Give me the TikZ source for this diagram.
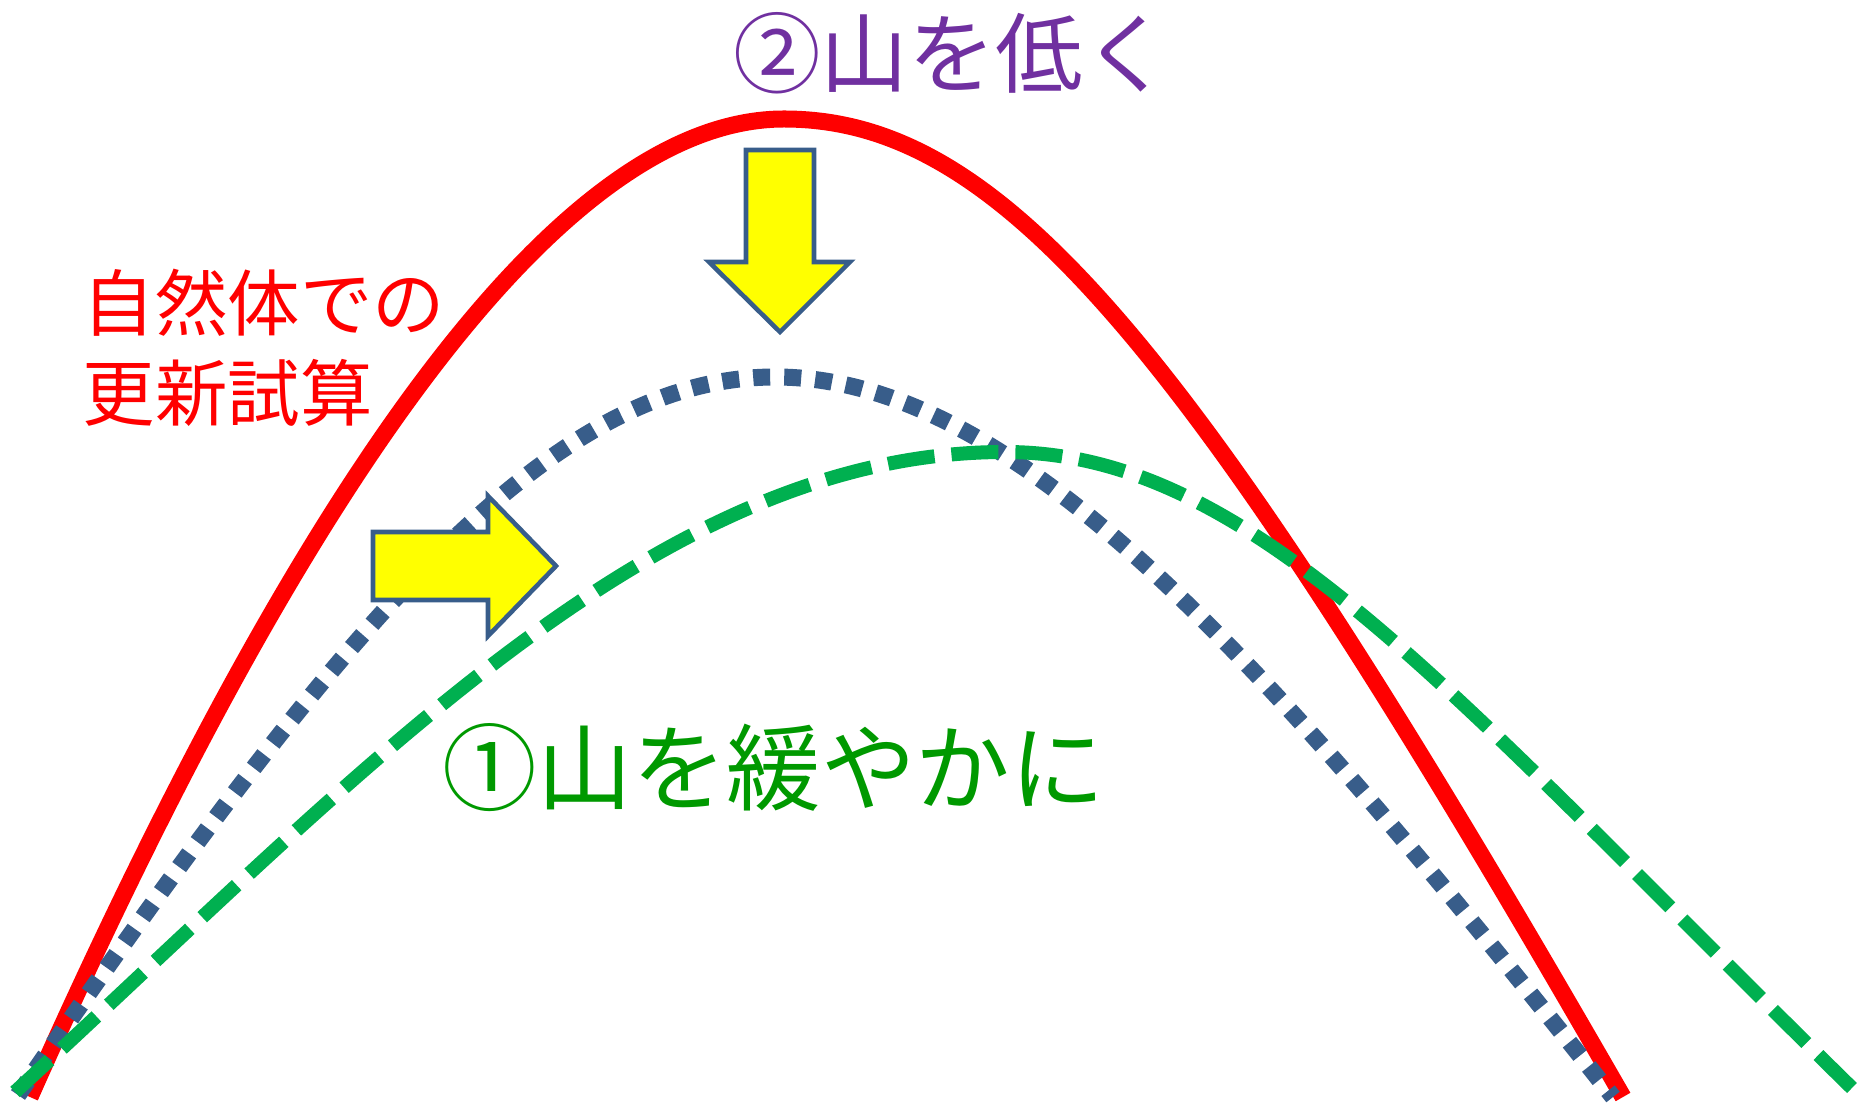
\documentclass[tikz,border=0pt]{standalone}
\usepackage{fontspec}
\usepackage{xcolor}
\usepackage{tikz}
\usetikzlibrary{arrows.meta,positioning}
\newfontfamily\jpfont{Noto Sans CJK JP}
\definecolor{peakred}{HTML}{FF0000}
\definecolor{dotblue}{HTML}{385D8A}
\definecolor{dashgreen}{HTML}{00B050}
\definecolor{labelgreen}{HTML}{009900}
\definecolor{labelpurple}{HTML}{7030A0}
\definecolor{arrowyellow}{HTML}{FFFF00}

\begin{document}
\begin{tikzpicture}[x=0.01cm,y=-0.01cm]
\tikzstyle{redcurve}=[draw=peakred, line width=0.17cm]
\tikzstyle{bluecurve}=[draw=dotblue, line width=0.17cm, dash pattern=on 0.17cm off 0.14cm]
\tikzstyle{greencurve}=[draw=dashgreen, line width=0.14cm, dash pattern=on 0.47cm off 0.17cm]
\tikzstyle{fatarrow}=[draw=dotblue, fill=arrowyellow, line width=1.3pt, line join=miter]
\tikzstyle{jplabel}=[inner sep=0pt, font=\jpfont]
\useasboundingbox (0,0) rectangle (1858,1107);
% natural body (red)
\coordinate (redtop) at (784,119);
\draw[redcurve] (30,1097) .. controls (310,467) and (564,119) .. (redtop)
  .. controls (1004,119) and (1193,349) .. (1623,1097);
% lowered peak (dotted)
\coordinate (bluetop) at (775,377);
\draw[bluecurve] (18,1095) .. controls (338,631) and (545,377) .. (bluetop)
  .. controls (1015,377) and (1263,656) .. (1613,1097);
% gentler slope (dashed)
\coordinate (greentop) at (1005,452);
\draw[greencurve] (15,1092) .. controls (365,770) and (655,452) .. (greentop)
  .. controls (1255,452) and (1456,700) .. (1856,1092);
% shift arrows
\draw[fatarrow] (746,150) -- (814,150) -- (814,262) -- (850,262) -- (780,332) -- (709,262) -- (746,262) -- cycle;
\draw[fatarrow] (373,532) -- (488,532) -- (488,496) -- (556,566) -- (488,636) -- (488,600) -- (373,600) -- cycle;
% labels
\node[jplabel, text=labelpurple, font=\jpfont\fontsize{24.9pt}{29pt}\selectfont] (lower) at (952,53) {②山を低く};
\node[jplabel, text=labelgreen, font=\jpfont\fontsize{26.9pt}{31pt}\selectfont] (gentle) at (774,768) {①山を緩やかに};
\node[jplabel, text=peakred, anchor=west, align=left, font=\jpfont\fontsize{20.6pt}{25.6pt}\selectfont] (trial) at (82,348) {自然体での\\更新試算};
\end{tikzpicture}
\end{document}
